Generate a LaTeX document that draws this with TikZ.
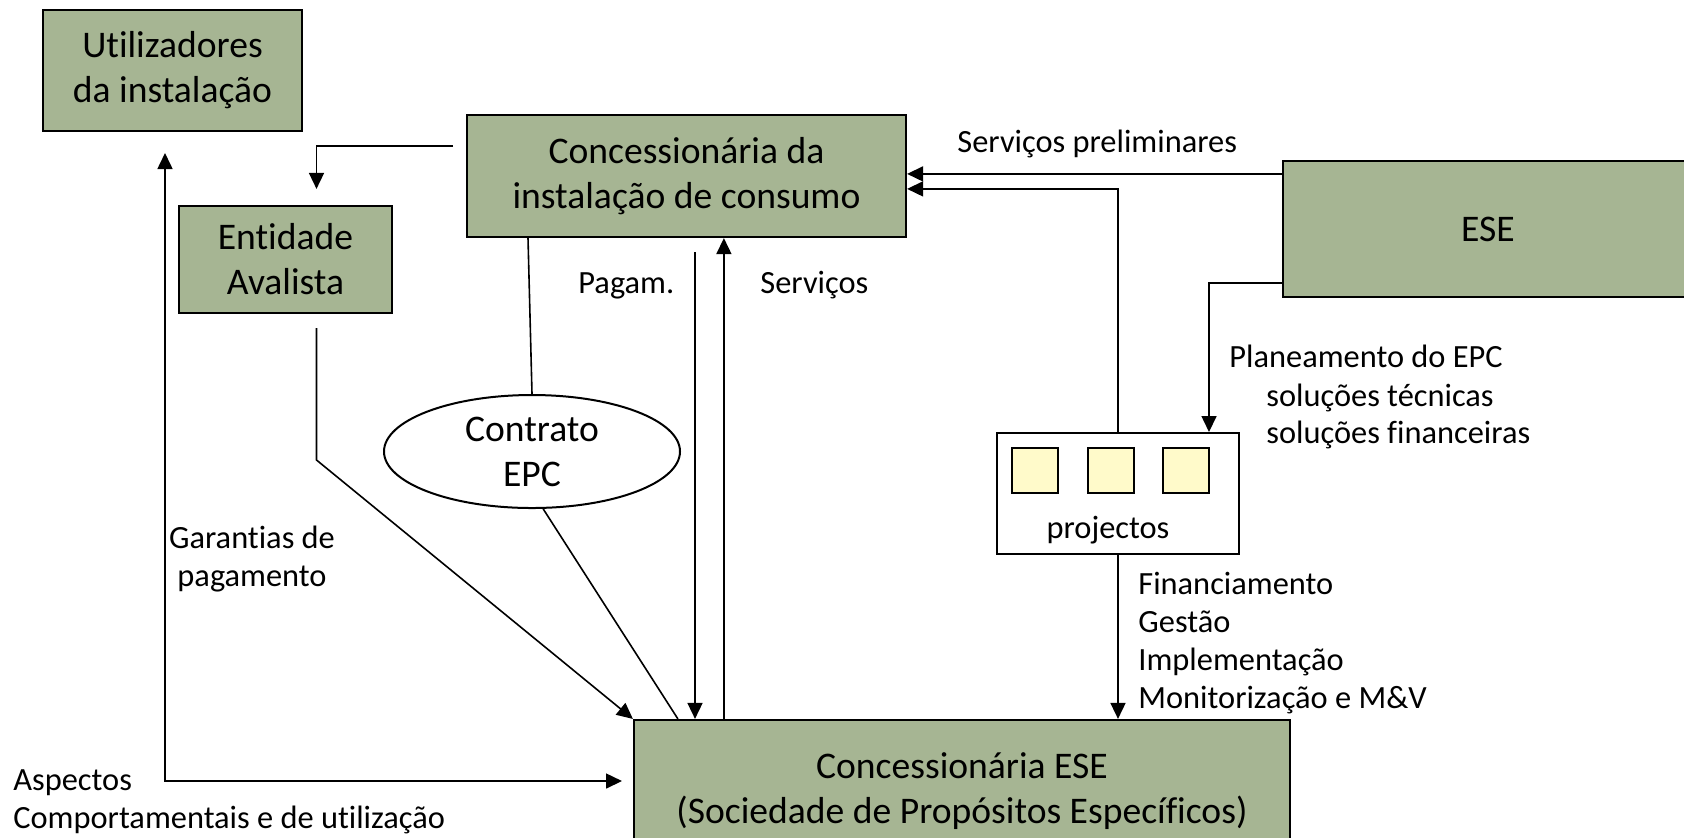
\documentclass[tikz,border=0pt]{standalone}
\usepackage{fontspec}
\setmainfont{Carlito}[Ligatures=NoCommon]
\usetikzlibrary{arrows.meta,shapes.geometric,calc}
\definecolor{boxgreen}{RGB}{166,181,147}
\definecolor{projyellow}{RGB}{255,250,202}
\newcommand{\bigf}{\fontsize{18.8}{22.5}\selectfont}
\newcommand{\labf}{\fontsize{16.2}{19}\selectfont}
\tikzset{
  x=0.5pt, y=-0.5pt,
  gbox/.style={draw, line width=1.1pt, fill=boxgreen, font=\bigf, align=center, inner sep=0pt},
  arr/.style={-{Triangle[length=8pt,width=7.5pt]}, line width=0.8pt},
  biarr/.style={{Triangle[length=8pt,width=7.5pt]}-{Triangle[length=8pt,width=7.5pt]}, line width=0.8pt},
  ln/.style={line width=0.8pt},
  lab/.style={font=\labf, inner sep=0pt, anchor=base west},
  sq/.style={draw, line width=1pt, fill=projyellow, minimum width=23pt, minimum height=22.5pt, inner sep=0pt}
}
\begin{document}
\begin{tikzpicture}
\useasboundingbox (0,0) rectangle (1684,837);
% boxes
\node[gbox, minimum width=129.5pt, minimum height=60.5pt] (U) at (172.5,70.5) {Utilizadores\\da instalação};
\node[gbox, minimum width=106.5pt, minimum height=53.5pt] (EA) at (285.5,259.5) {Entidade\\Avalista};
\node[gbox, minimum width=219.5pt, minimum height=61pt] (CI) at (686.5,176) {Concessionária da\\instalação de consumo};
\node[gbox, minimum width=205pt, minimum height=68pt] (ESE) at (1488,229) {ESE};
\node[gbox, minimum width=328pt, minimum height=71pt] (CE) at (962,791) {Concessionária ESE\\(Sociedade de Propósitos Específicos)};
\node[draw, line width=1pt, fill=white, minimum width=121pt, minimum height=60.5pt, inner sep=0pt] (PJ) at (1118,493.5) {};
\node[sq] (s1) at (1035,470.5) {};
\node[sq] (s2) at (1110.5,470.5) {};
\node[sq] (s3) at (1186,470.5) {};
\node[font=\labf, inner sep=0pt, anchor=base] (pjl) at (1108,538) {projectos};
\node[ellipse, draw, line width=1pt, fill=white, minimum width=148pt, minimum height=56.5pt, inner sep=0pt, font=\bigf, align=center] (EPC) at (532,451.5) {Contrato\\EPC};
% free ends
\coordinate (c1) at (453,146);
\coordinate (c2) at (316.5,328);
\coordinate (c3) at (165,153);
\coordinate (c4) at (622,781);
\coordinate (c5) at (695,252);
% connectors
\draw[arr, shorten >=8pt] (c1) -| ([xshift=15.5pt]EA.north);
\draw[arr] (c2) -- (316.5,460) -- (CE.north west);
\draw[biarr] (c3) |- (c4);
\draw[ln] (EPC.north) -- ([xshift=-2pt]EPC.north |- CI.south);
\draw[ln] (EPC.-79) -- ([xshift=22.5pt]CE.north west);
\draw[arr] (c5) -- (c5 |- CE.north);
\draw[arr] ([xshift=45.5pt]CE.north west) coordinate (sv) -- (sv |- CI.south);
\draw[arr] ([yshift=-7pt]ESE.north west) coordinate (e1) -- (e1 -| CI.east);
\draw[arr] (PJ.north) |- ([yshift=-37.5pt]CI.north east);
\draw[arr] ([yshift=7.5pt]ESE.south west) -| ([xshift=45.5pt]PJ.north);
\draw[arr] (PJ.south) -- (PJ.south |- CE.north);
% labels
\node[lab] (l1) at (957,152) {Serviços preliminares};
\node[lab] (l2) at (578,293) {Pagam.};
\node[lab] (l3) at (760,293) {Serviços};
\node[lab] (l4) at (1229,367) {Planeamento do EPC};
\node[lab] (l5) at (1266,406) {soluções técnicas};
\node[lab] (l6) at (1266,443) {soluções financeiras};
\node[lab] (l7) at (1138,594) {Financiamento};
\node[lab] (l8) at (1138,632) {Gestão};
\node[lab] (l9) at (1138,670) {Implementação};
\node[lab] (l10) at (1138,708) {Monitorização e M\&V};
\node[font=\labf, inner sep=0pt, anchor=base] (l11) at (252,548) {Garantias de};
\node[font=\labf, inner sep=0pt, anchor=base] (l12) at (252,586) {pagamento};
\node[lab] (l13) at (13,790) {Aspectos};
\node[lab] (l14) at (13,828) {Comportamentais e de utilização};
\end{tikzpicture}
\end{document}
